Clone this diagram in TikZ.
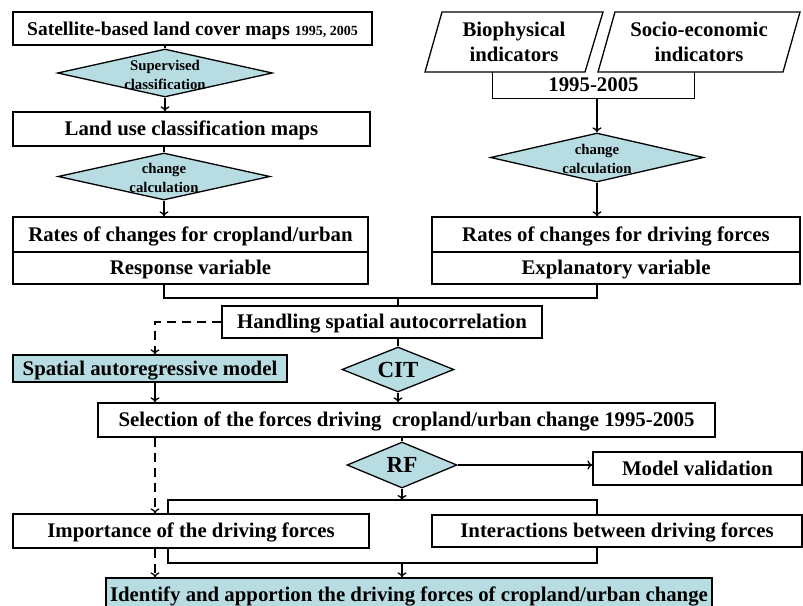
\documentclass[tikz,border=0pt]{standalone}
\usepackage{fontspec}
\setmainfont{Liberation Serif}
\usetikzlibrary{arrows,arrows.meta,shapes.geometric}
\definecolor{lblue}{RGB}{183,221,226}

\begin{document}
\begin{tikzpicture}[x=1pt,y=-1pt,line width=1.3pt,>={To[length=5pt,width=9pt]},font=\bfseries\fontsize{20.8}{25}\selectfont]

\tikzstyle{tx} = [text height=15.6pt, text depth=2pt]
\tikzstyle{bx} = [rectangle, draw=black, inner sep=0pt, text centered, tx]
\tikzstyle{bbx} = [bx, fill=lblue]
\tikzstyle{dm} = [diamond, draw=black, fill=lblue, inner sep=0pt]
\tikzstyle{sm} = [font=\bfseries\fontsize{14.8}{19}\selectfont, align=center, yshift=-1.5pt]
\tikzstyle{bg} = [font=\bfseries\fontsize{23}{25}\selectfont, text height=17pt, text depth=1.8pt]
\tikzstyle{dsh} = [dash pattern=on 9pt off 6pt]

\clip (0,0) rectangle (803,605);

% left column
\node (sat) [bx, minimum width=359, minimum height=33] at (192.5,28.5) {\fontsize{19.5}{22}\selectfont Satellite-based land cover maps {\fontsize{14}{14}\selectfont 1995, 2005}};
\node (sup) [dm, minimum width=215, minimum height=48] at (165,73) {};
\node (suptx) [sm] at (sup) {Supervised\\classification};
\node (luc) [bx, minimum width=357, minimum height=34] at (191.5,129) {Land use classification maps};
\node (chg1) [dm, minimum width=212, minimum height=47] at (164,176.5) {};
\node (chg1tx) [sm] at (chg1) {change\\calculation};
\node (rcu) [bx, minimum width=355, minimum height=35] at (190.5,234.5) {Rates of changes for cropland/urban};
\node (rv) [bx, minimum width=355, minimum height=32] at (190.5,268) {Response variable};

% right column
\draw (425,72) -- (442,12) -- (603,12) -- (585,72) -- cycle;
\node (bio) [align=center] at (514,42) {Biophysical\\indicators};
\draw (598,72) -- (615,12) -- (800,12) -- (783,72) -- cycle;
\node (soc) [align=center] at (699,42) {Socio-economic\\indicators};
\node (yr) [tx, minimum width=201, minimum height=25, inner sep=0pt] at (593.5,85) {1995-2005};
\draw (yr.north west) -- (yr.south west) -- (yr.south east) -- (yr.north east);
\node (chg2) [dm, minimum width=213, minimum height=49] at (597,157.5) {};
\node (chg2tx) [sm] at (chg2) {change\\calculation};
\node (rdf) [bx, minimum width=368, minimum height=35] at (616,234.5) {Rates of changes for driving forces};
\node (ev) [bx, minimum width=368, minimum height=32] at (616,268) {Explanatory variable};

% middle
\node (hsa) [bx, minimum width=320, minimum height=32] at (382,322) {Handling spatial autocorrelation};
\node (sam) [bbx, minimum width=274, minimum height=27] at (150,368.5) {Spatial autoregressive model};
\node (cit) [dm, minimum width=112, minimum height=45] at (398,369.5) {};
\node (cittx) [bg] at (cit) {CIT};
\node (sel) [bx, minimum width=617, minimum height=34] at (406.5,420) {Selection of the forces driving\ \ cropland/urban change 1995-2005};
\node (rf) [dm, minimum width=110, minimum height=46] at (402,465) {};
\node (rftx) [bg] at (rf) {RF};
\node (mv) [bx, minimum width=209, minimum height=33] at (697.5,468.5) {Model validation};
\node (imp) [bx, minimum width=356, minimum height=34] at (191,531) {Importance of the driving forces};
\node (int) [bx, minimum width=370, minimum height=32] at (617,531) {Interactions between driving forces};
\node (idf) [bbx, minimum width=606, minimum height=34] at (409,595) {Identify and apportion the driving forces of cropland/urban change};

\coordinate (m1) at (398,298);
\coordinate (m2) at (402,500);
\coordinate (m3) at (402,563);
\coordinate (d1) at (155,0);
\coordinate (l1) at (168,0);
\coordinate (r1) at (597,0);

% connectors
\draw (sup.north) -- (sup.north |- sat.south);
\draw[->] (sup.south) -- (sup.south |- luc.north);
\draw (luc.south -| chg1.north) -- (chg1.north);
\draw[->] (chg1.south) -- (chg1.south |- rcu.north);
\draw[->] (yr.south -| chg2.north) -- (chg2.north);
\draw[->] (chg2.south) -- (chg2.south |- rdf.north);
\draw (rv.south -| chg1.south) -- (chg1.south |- m1) -- (chg2.south |- m1) -- (ev.south -| chg2.south);
\draw (m1) -- (m1 |- hsa.north);
\draw[dsh,->] (hsa.west) -| (d1 |- sam.north);
\draw (hsa.south -| cit.north) -- (cit.north);
\draw[->] (cit.south) -- (cit.south |- sel.north);
\draw[->] (d1 |- sam.south) -- (d1 |- sel.north);
\draw (sel.south -| rf.north) -- (rf.north);
\draw[->] (rf.east) -- (rf.east -| mv.west);
\draw[->] (rf.south) -- (m2);
\draw (l1 |- imp.north) -- (l1 |- m2) -- (r1 |- m2) -- (r1 |- int.north);
\draw (l1 |- imp.south) -- (l1 |- m3) -- (r1 |- m3) -- (r1 |- int.south);
\draw[->] (m3) -- (m3 |- idf.north);
\draw[dsh,->] (d1 |- sel.south) -- (d1 |- imp.north);
\draw[dsh,->] (d1 |- imp.south) -- (d1 |- idf.north);
\end{tikzpicture}
\end{document}
